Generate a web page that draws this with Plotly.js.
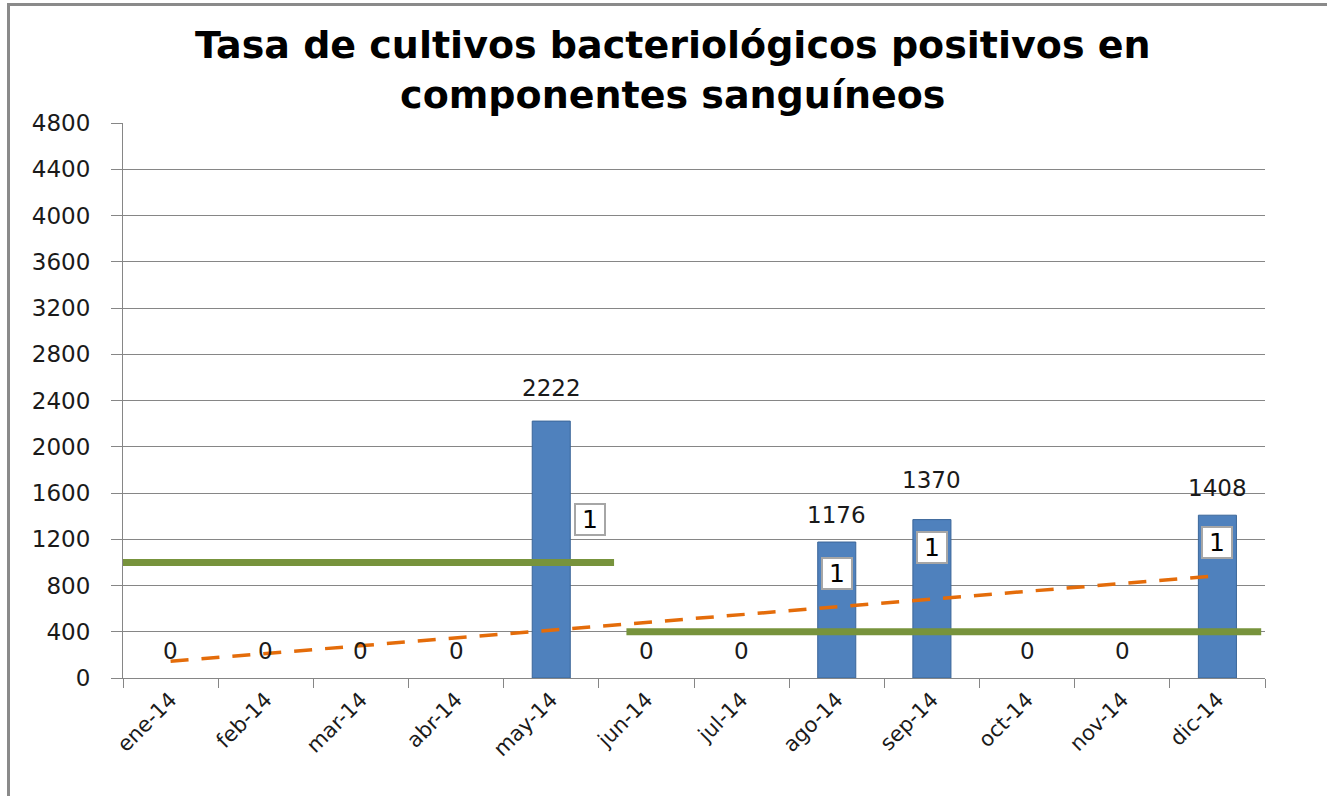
<!DOCTYPE html>
<html>
<head>
<meta charset="utf-8">
<script src="https://cdn.plot.ly/plotly-3.0.1.min.js"></script>
<style>
  html, body { margin: 0; padding: 0; background: #fff; }
  #wrap { position: absolute; left: 0; top: 0; width: 1327px; height: 796px; overflow: hidden; }
  #frame { position: absolute; left: 7px; top: 3px; width: 1330px; height: 800px;
           border-left: 3px solid #8a8a8a; border-top: 3px solid #8a8a8a; pointer-events: none; }
  #chart { position: absolute; left: 0; top: 0; width: 1327px; height: 796px; }
</style>
</head>
<body>
<div id="wrap">
  <div id="chart"></div>
  <div id="frame"></div>
</div>
<script>
// ---- data ----
const months = ['ene-14','feb-14','mar-14','abr-14','may-14','jun-14','jul-14','ago-14','sep-14','oct-14','nov-14','dic-14'];
const tasa = [0, 0, 0, 0, 2222, 0, 0, 1176, 1370, 0, 0, 1408];
const countMonths = ['may-14', 'ago-14', 'sep-14', 'dic-14'];
const countValues = [1, 1, 1, 1];
const trendMonths = ['ene-14', 'dic-14'];
const trendValues = [145, 884];
const limitHigh = 1000;
const limitLow = 400;
const yTicks = [0, 400, 800, 1200, 1600, 2000, 2400, 2800, 3200, 3600, 4000, 4400, 4800];

// ---- styling ----
const FONT = 'DejaVu Sans, Verdana, sans-serif';
const barTrace = {
  type: 'bar', x: months, y: tasa, width: 0.4,
  marker: { color: '#4F81BD', line: { color: '#3B6699', width: tasa.map(v => v > 0 ? 1 : 0) } },
  hoverinfo: 'x+y', showlegend: false
};
const trendTrace = {
  type: 'scatter', mode: 'lines', x: trendMonths, y: trendValues,
  line: { color: '#E46C0A', width: 3.5, dash: '18px,13px' },
  showlegend: false, hoverinfo: 'skip'
};

// value labels above bars
const valueShift = { 'may-14': 33, 'sep-14': 40 };
const valueAnn = months.map((m, i) => ({
  x: m, y: tasa[i], xref: 'x', yref: 'y', text: String(tasa[i]),
  showarrow: false, yanchor: 'middle', yshift: (valueShift[m] || 27),
  font: { family: FONT, size: 23, color: '#1a1a1a' }
}));

// "1" boxes
const boxPlace = { 'may-14': { y: 1367, xs: 39 }, 'ago-14': { y: 908, xs: 0 },
                   'sep-14': { y: 1125, xs: 0 }, 'dic-14': { y: 1168, xs: 0 } };
const boxAnn = countMonths.map((m, i) => ({
  x: m, y: boxPlace[m].y, xref: 'x', yref: 'y', text: String(countValues[i]),
  showarrow: false, xshift: boxPlace[m].xs, width: 26, height: 27, align: 'center', valign: 'middle',
  bgcolor: '#ffffff', bordercolor: '#A6A6A6', borderwidth: 2, borderpad: 1,
  font: { family: FONT, size: 25, color: '#000' }
}));

const shapes = [
  { type: 'line', xref: 'x', yref: 'y', x0: -0.54, x1: 4.66, y0: limitHigh, y1: limitHigh,
    line: { color: '#77933C', width: 7 } },
  { type: 'line', xref: 'x', yref: 'y', x0: 4.79, x1: 11.46, y0: limitLow, y1: limitLow,
    line: { color: '#77933C', width: 7 } }
];

const layout = {
  width: 1327, height: 796,
  margin: { l: 123, r: 62, t: 123, b: 118 },
  paper_bgcolor: '#ffffff', plot_bgcolor: '#ffffff',
  title: {
    text: '<b>Tasa de cultivos bacteriológicos positivos en<br>componentes sanguíneos</b>',
    x: 0.507, xanchor: 'center', yref: 'container', y: 0.927, yanchor: 'top',
    font: { family: FONT, size: 38, color: '#000' }
  },
  xaxis: {
    type: 'category', categoryorder: 'array', categoryarray: months,
    range: [-0.5, 11.5], tickangle: -45, tickson: 'boundaries',
    ticks: 'outside', ticklen: 9, tickcolor: '#868686', tickwidth: 1,
    showline: true, linecolor: '#868686', linewidth: 1, showgrid: false,
    tickfont: { family: FONT, size: 21, color: '#1a1a1a' }, zeroline: false
  },
  yaxis: {
    range: [0, 4800], tickvals: yTicks, ticktext: yTicks.map(String),
    ticks: 'outside', ticklen: 11, tickcolor: '#868686', ticklabelstandoff: 16,
    showgrid: true, gridcolor: '#868686', gridwidth: 1,
    showline: true, linecolor: '#868686', linewidth: 1, zeroline: false,
    tickfont: { family: FONT, size: 23, color: '#1a1a1a' }
  },
  shapes: shapes,
  annotations: valueAnn.concat(boxAnn),
  showlegend: false,
  bargap: 0.6
};

Plotly.newPlot('chart', [barTrace, trendTrace], layout, { displayModeBar: false, staticPlot: true });
</script>
</body>
</html>
